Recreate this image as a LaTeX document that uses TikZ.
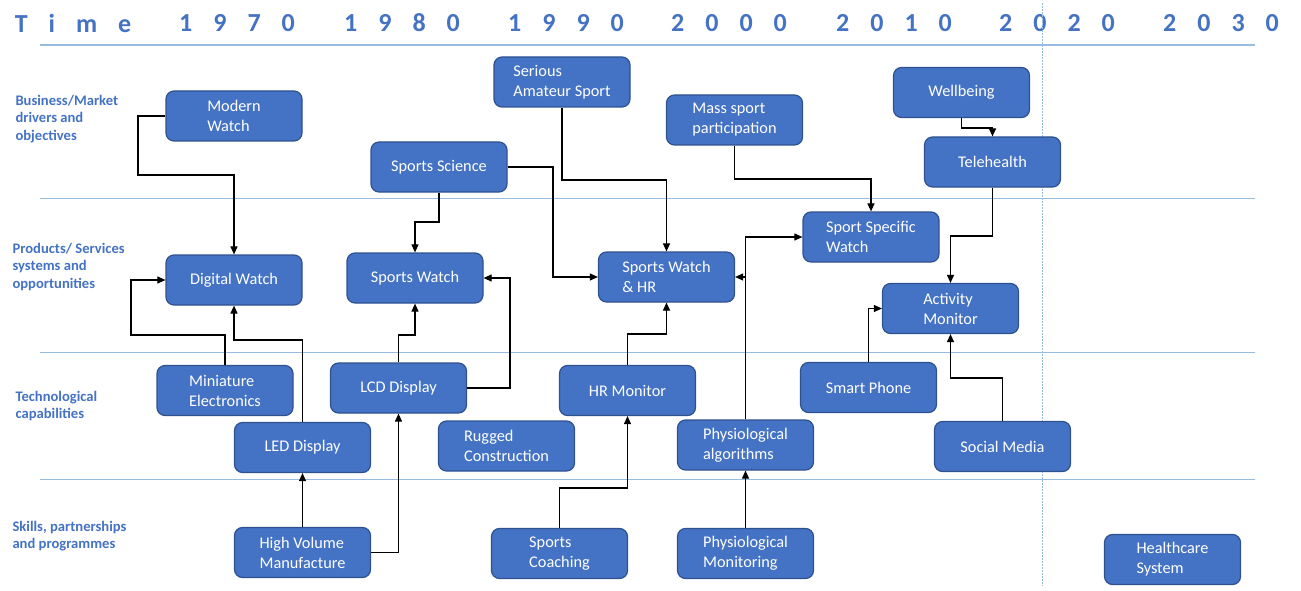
\documentclass[tikz,border=0pt]{standalone}
\usepackage{fontspec}
\setmainfont{Carlito}
\usepackage{xcolor}
\definecolor{rmblue}{RGB}{68, 114, 196}
\definecolor{rmedge}{RGB}{47, 82, 143}
\definecolor{rmgrid}{RGB}{150, 188, 226}
\usetikzlibrary{arrows.meta}

\newlength{\yeargap}
\setlength{\yeargap}{21pt}
\newcommand{\spacedlabel}[4]{#1\kern\yeargap #2\kern\yeargap #3\kern\yeargap #4}

\tikzset{
    rmbox/.style={draw=rmedge, line width=1.2pt, fill=rmblue, rounded corners=8pt,
        minimum width=136pt, minimum height=50pt, inner sep=2pt, text=white,
        align=left, font=\fontsize{16.3}{20}\selectfont},
    lanelbl/.style={anchor=west, align=left, text=rmblue,
        font=\fontsize{14.6}{17.5}\selectfont\bfseries},
    headlbl/.style={text=rmblue, font=\fontsize{26}{30}\selectfont\bfseries},
    lane/.style={rmgrid, line width=1pt},
    arr/.style={-{Triangle[length=8pt,width=7pt]}, line width=1.1pt, black}
}

\begin{document}
\begin{tikzpicture}[x=1pt, y=-1pt]
    \useasboundingbox (0,0) rectangle (1301,591);

    % Time axis
    \node[headlbl] (timelbl) at (73,23) {\spacedlabel Time};
    \foreach \yr/\xx in {1970/237, 1980/402, 1990/566, 2000/729, 2010/894, 2020/1057, 2030/1221}
        \node[headlbl] (yr\yr) at (\xx,23) {\expandafter\spacedlabel\yr};

    % Lanes
    \draw[lane, line width=1.4pt] (40,45) -- (1255,45);
    \draw[lane] (40,198) -- (1255,198);
    \draw[lane] (40,352) -- (1255,352);
    \draw[lane] (40,479) -- (1255,479);
    \draw[lane, dash pattern=on 2pt off 1pt] (1042,3) -- (1042,586);

    % Lane labels
    \node[lanelbl] (lblbusiness) at (12,119) {Business/Market\\drivers and\\objectives};
    \node[lanelbl] (lblproducts) at (9,267) {Products/ Services\\systems and\\opportunities};
    \node[lanelbl] (lbltech) at (12,406) {Technological\\capabilities};
    \node[lanelbl] (lblskills) at (9,536) {Skills, partnerships\\and programmes};

    % Business/Market drivers
    \node[rmbox] (modern) at (234,116) {Modern\\Watch};
    \node[rmbox] (science) at (439,167) {Sports Science};
    \node[rmbox] (serious) at (562,82) {Serious\\Amateur Sport};
    \node[rmbox] (mass) at (734.5,120) {Mass sport\\participation};
    \node[rmbox] (wellbeing) at (961.5,92.5) {Wellbeing};
    \node[rmbox] (tele) at (992.5,162) {Telehealth};

    % Products/ Services
    \node[rmbox] (digital) at (234,280) {Digital Watch};
    \node[rmbox] (sportswatch) at (415,278) {Sports Watch};
    \node[rmbox] (swhr) at (666.5,277) {Sports Watch\\\& HR};
    \node[rmbox] (ssw) at (871,237) {Sport Specific\\Watch};
    \node[rmbox] (activity) at (950.5,308.5) {Activity\\Monitor};

    % Technological capabilities
    \node[rmbox] (mini) at (225,390.5) {Miniature\\Electronics};
    \node[rmbox] (lcd) at (398.5,388) {LCD Display};
    \node[rmbox] (hrmon) at (627.5,390.5) {HR Monitor};
    \node[rmbox] (phone) at (868.5,387.5) {Smart Phone};
    \node[rmbox] (led) at (302.5,447.5) {LED Display};
    \node[rmbox] (rugged) at (506.5,446) {Rugged\\Construction};
    \node[rmbox] (algo) at (745.5,445) {Physiological\\algorithms};
    \node[rmbox] (social) at (1002.5,446.5) {Social Media};

    % Skills, partnerships
    \node[rmbox] (hvm) at (302.5,552.5) {High Volume\\Manufacture};
    \node[rmbox] (coaching) at (559.5,553.5) {Sports\\Coaching};
    \node[rmbox] (physmon) at (745.5,553.5) {Physiological\\Monitoring};
    \node[rmbox] (health) at (1172.5,559.5) {Healthcare\\System};

    % Links into the watches
    \draw[arr] (modern.west) -| (138,175) -| (digital.north);
    \draw[arr] (mini.north) |- (131,335) |- (digital.west);
    \draw[arr] (led.north) |- (234,340) -- (digital.south);
    \draw[arr] (hvm.north) -- (led.south);
    \draw[arr] (hvm.east) -| (lcd.south);
    \draw[arr] (lcd.north) |- (415,335) -- (sportswatch.south);
    \draw[arr] (lcd.east) -| (510,278) -- (sportswatch.east);
    \draw[arr] (science.south) |- (415,222) -- (sportswatch.north);
    \draw[arr] (science.east) -| (553,277) -- (swhr.west);
    \draw[arr] (serious.south) |- (666.5,180) -- (swhr.north);
    \draw[arr] (hrmon.north) |- (666.5,334) -- (swhr.south);
    \draw[arr] (coaching.north) |- (627.5,488) -- (hrmon.south);

    % Links into the monitors
    \draw[arr] (algo.north) |- (ssw.west);
    \draw[arr] (algo.north |- swhr.east) -- (swhr.east);
    \draw[arr] (physmon.north) -- (algo.south);
    \draw[arr] (mass.south) |- (871,179) -- (ssw.north);
    \draw[arr] (wellbeing.south) |- (992.5,128) -- (tele.north);
    \draw[arr] (tele.south) |- (950.5,236) -- (activity.north);
    \draw[arr] (phone.north) |- (activity.west);
    \draw[arr] (social.north) |- (950.5,378) -- (activity.south);
\end{tikzpicture}
\end{document}
